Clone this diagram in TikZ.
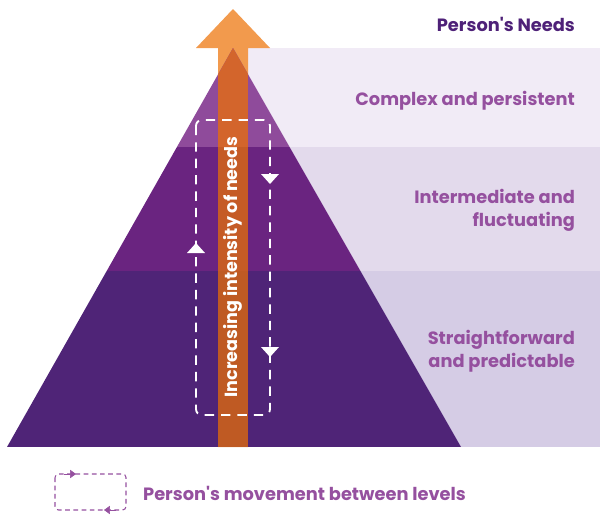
\documentclass[tikz,border=0pt]{standalone}
\usepackage{fontspec}
\setmainfont{Poppins}
\usepackage{xcolor}
\usepackage{tikz}
\usetikzlibrary{arrows.meta,positioning,calc}

\definecolor{bandtop}{HTML}{F1EBF6}
\definecolor{bandmid}{HTML}{E3DAEC}
\definecolor{bandbot}{HTML}{D5CCE5}
\definecolor{lvltop}{HTML}{8F4B9B}
\definecolor{lvlmid}{HTML}{6A2480}
\definecolor{lvlbot}{HTML}{4F2477}
\definecolor{orlight}{HTML}{F29A4D}
\definecolor{ortop}{HTML}{D3652C}
\definecolor{ormid}{HTML}{C55B26}
\definecolor{orbot}{HTML}{BF5A23}
\definecolor{labelpurple}{HTML}{95509F}
\definecolor{titlepurple}{HTML}{4E2178}

\tikzset{
  level label/.style={anchor=east, align=right, text=labelpurple, font=\bfseries\fontsize{15.2}{19.5}\selectfont},
  move box/.style={dashed, dash pattern=on 8pt off 6pt, line width=1.6pt, rounded corners=5pt},
}
% arrowhead on the dashed loop: #1 = tip, #2 = +1 up / -1 down
\newcommand{\movehead}[2]{\fill[white] (#1) ++(-9,10*#2) -- (#1) -- ++(9,10*#2) -- cycle;}

\begin{document}
\begin{tikzpicture}[x=0.3mm, y=-0.3mm]
\useasboundingbox (0,0) rectangle (600,514);

% pyramid corners
\coordinate (apex) at (233,48);
\coordinate (bl) at (7,447);
\coordinate (br) at (461,447);

% level bands on the right
\fill[bandtop] (233,48) rectangle (600,147);
\fill[bandmid] (233,147) rectangle (600,271);
\fill[bandbot] (233,271) rectangle (600,447);

% intensity arrow
\fill[orlight] (218,447) -- (218,48) -- (196,48) -- (233,9) -- (270,48) -- (248,48) -- (248,447) -- cycle;

% pyramid levels, shaft darker inside
\begin{scope}
  \clip (bl) -- (apex) -- (br) -- cycle;
  \fill[lvltop] (0,40) rectangle (600,147);
  \fill[lvlmid] (0,147) rectangle (600,271);
  \fill[lvlbot] (0,271) rectangle (600,447);
  \fill[ortop] (218,40) rectangle (248,147);
  \fill[ormid] (218,147) rectangle (248,271);
  \fill[orbot] (218,271) rectangle (248,447);
\end{scope}

\node[rotate=90, text=white, font=\bfseries\fontsize{15}{18}\selectfont] (intensity) at (233,267) {Increasing intensity of needs};

% movement between levels
\coordinate (mvtl) at (196,120);
\coordinate (mvbr) at (270,415);
\draw[white, move box] (mvtl) rectangle (mvbr);
\coordinate (up1) at (196,243);
\coordinate (dn1) at (270,184);
\coordinate (dn2) at (270,357);
\movehead{up1}{1}
\movehead{dn1}{-1}
\movehead{dn2}{-1}

% labels
\node[anchor=east, text=titlepurple, font=\bfseries\fontsize{15.2}{18}\selectfont] (title) at (579,24) {Person\textquotesingle s Needs};
\node[level label] (complex) at (579,101) {Complex and persistent};
\node[level label] (intermediate) at (579,210) {Intermediate and\\fluctuating};
\node[level label] (straight) at (579,351) {Straightforward\\and predictable};

% legend
\coordinate (lgtl) at (55,474);
\coordinate (lgbr) at (126,510);
\draw[labelpurple, dashed, dash pattern=on 4pt off 3pt, line width=0.9pt, rounded corners=3pt] (lgtl) rectangle (lgbr);
\draw[labelpurple, fill=labelpurple, -{Triangle[width=7pt,length=5pt]}] (64,474) -- (76,474);
\draw[labelpurple, fill=labelpurple, -{Triangle[width=7pt,length=5pt]}] (116,510) -- (104,510);
\node[anchor=west, text=labelpurple, font=\bfseries\fontsize{15.2}{18}\selectfont] (legend) at (139,493) {Person\textquotesingle s movement between levels};
\end{tikzpicture}
\end{document}
